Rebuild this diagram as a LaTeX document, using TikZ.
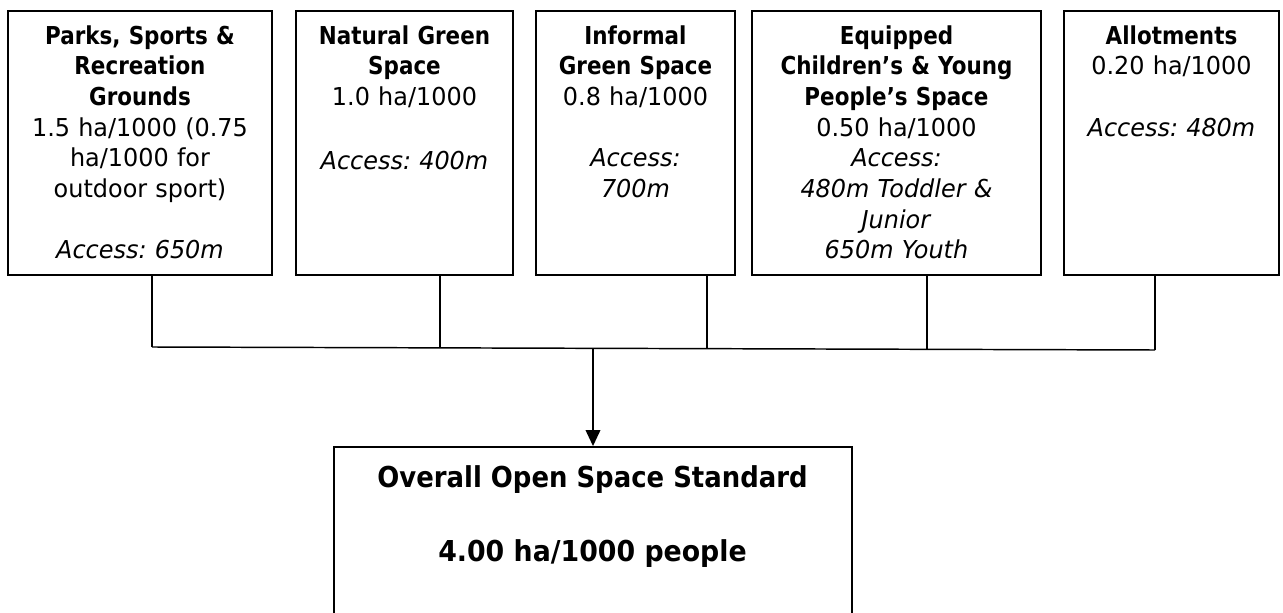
\documentclass[tikz,border=0pt]{standalone}
\usepackage{fontspec}
\setmainfont{DejaVu Sans}[FakeStretch=0.97,BoldFeatures={FakeStretch=0.87}]
\newfontfamily\headfont{DejaVu Sans Bold}[FakeStretch=0.90]
\newfontfamily\ratefont{DejaVu Sans Bold}[FakeStretch=0.93]
\usetikzlibrary{arrows.meta}
\frenchspacing
\newcommand\topfont{\fontsize{18.5pt}{23pt}\selectfont}
\newcommand\tstrut{\rule{0pt}{15pt}}
\begin{document}
\begin{tikzpicture}[x=0.75pt,y=-0.75pt,
  box/.style={draw, line width=1.4pt, rectangle, inner sep=0pt},
  txt/.style={anchor=north, inner sep=0pt, align=center, font=\topfont},
  link/.style={line width=1.1pt},
  bigtxt/.style={anchor=base, inner sep=0pt},
]
\useasboundingbox (0,0) rectangle (1283,613);
\clip (0,0) rectangle (1283,613);

% category boxes
\node[box, minimum width=264*0.75pt, minimum height=264*0.75pt] (b1) at (140,143) {};
\node[box, minimum width=217*0.75pt, minimum height=264*0.75pt] (b2) at (404.5,143) {};
\node[box, minimum width=199*0.75pt, minimum height=264*0.75pt] (b3) at (635.5,143) {};
\node[box, minimum width=289*0.75pt, minimum height=264*0.75pt] (b4) at (896.5,143) {};
\node[box, minimum width=215*0.75pt, minimum height=264*0.75pt] (b5) at (1171.5,143) {};

% box contents
\node[txt, text width=260*0.75pt] (t1) at ([yshift=-10.5pt]b1.north)
  {\tstrut\textbf{Parks, Sports \&}\\ \textbf{Recreation}\\ \textbf{Grounds}\\
   1.5 ha/1000 (0.75\\ ha/1000 for\\ outdoor sport)\\[23pt]
   \textit{Access: 650m}};
\node[txt, text width=213*0.75pt] (t2) at ([yshift=-10.5pt]b2.north)
  {\tstrut\textbf{Natural Green}\\ \textbf{Space}\\ 1.0 ha/1000\\[25pt]
   \textit{Access: 400m}};
\node[txt, text width=195*0.75pt] (t3) at ([yshift=-10.5pt]b3.north)
  {\tstrut\textbf{Informal}\\ \textbf{Green Space}\\ 0.8 ha/1000\\[23pt]
   \textit{Access:}\\ \textit{700m}};
\node[txt, text width=285*0.75pt] (t4) at ([yshift=-10.5pt]b4.north)
  {\tstrut\textbf{Equipped}\\ \textbf{Children’s \& Young}\\ \textbf{People’s Space}\\
   0.50 ha/1000\\ \textit{Access:}\\ \textit{480m Toddler \&}\\ \textit{Junior}\\
   \textit{650m Youth}};
\node[txt, text width=211*0.75pt] (t5) at ([yshift=-10.5pt]b5.north)
  {\tstrut\textbf{Allotments}\\ 0.20 ha/1000\\[23pt] \textit{Access: 480m}};

% overall standard box
\node[box, minimum width=518*0.75pt, minimum height=213*0.75pt] (total) at (593,553.5) {};
\node[bigtxt, font=\headfont\fontsize{21.6pt}{26pt}\selectfont] (tt1) at (592.5,487)
  {Overall Open Space Standard};
\node[bigtxt, font=\ratefont\fontsize{21.6pt}{26pt}\selectfont] (tt2) at (592.5,561)
  {4.00 ha/1000 people};

% collector line
\coordinate (j1) at (152,347);
\coordinate (j2) at (440,347.86);
\coordinate (j3) at (707,348.66);
\coordinate (j4) at (927,349.32);
\coordinate (j5) at (1155,350);
\coordinate (jm) at (593,348.32);
\draw[link] (b1.south -| j1) -- (j1);
\draw[link] (b2.south -| j2) -- (j2);
\draw[link] (b3.south -| j3) -- (j3);
\draw[link] (b4.south -| j4) -- (j4);
\draw[link] (b5.south -| j5) -- (j5);
\draw[link] (j1) -- (j5);
\draw[link, -{Triangle[length=12pt,width=11pt]}] (jm) -- (total.north);
\end{tikzpicture}
\end{document}
